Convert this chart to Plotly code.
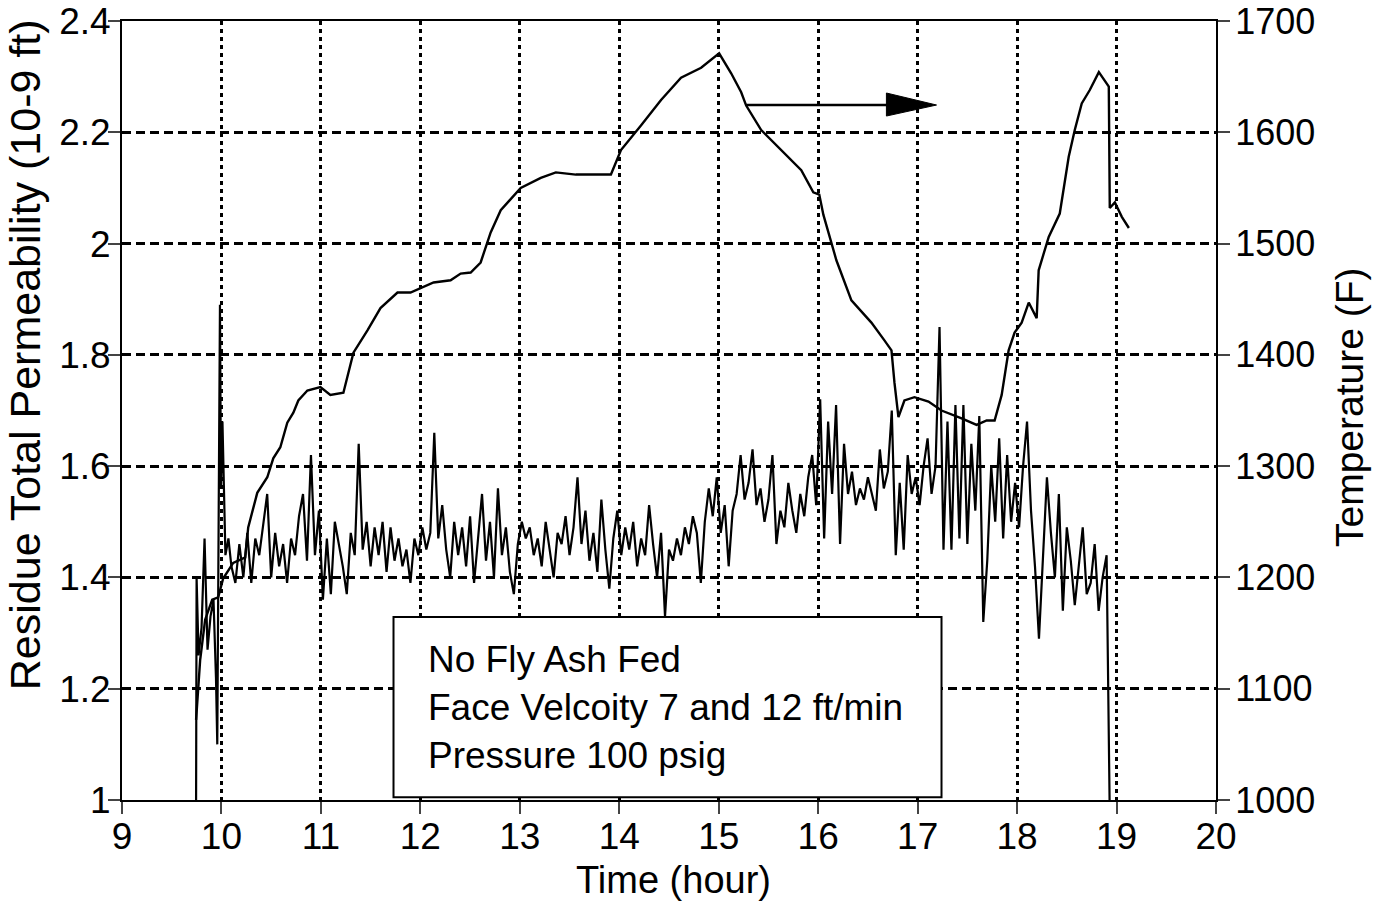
import plotly.graph_objects as go

# Temperature (right axis, F)
temp_t = [9.745, 9.786, 9.836, 9.907, 9.967, 10.017, 10.118, 10.239, 10.269, 10.360, 10.461, 10.521,
          10.592, 10.662, 10.723, 10.773, 10.864, 10.995, 11.095, 11.226, 11.327, 11.468, 11.599, 11.770,
          11.901, 12.002, 12.133, 12.304, 12.405, 12.506, 12.606, 12.707, 12.808, 13.009, 13.211, 13.362,
          13.563, 13.916, 14.017, 14.218, 14.420, 14.621, 14.823, 15.004, 15.125, 15.226, 15.276, 15.427,
          15.629, 15.830, 15.951, 16.011, 16.052, 16.183, 16.334, 16.535, 16.666, 16.737, 16.767, 16.807,
          16.867, 16.968, 17.109, 17.240, 17.442, 17.593, 17.694, 17.774, 17.845, 17.915, 17.975, 18.046,
          18.117, 18.197, 18.217, 18.318, 18.429, 18.519, 18.580, 18.650, 18.731, 18.822, 18.922, 18.932,
          18.983, 19.053, 19.124]
temp_v = [1072, 1126, 1162, 1180, 1182, 1199, 1213, 1218, 1245, 1276, 1290, 1307,
          1317, 1339, 1348, 1359, 1368, 1371, 1364, 1366, 1402, 1422, 1442, 1456,
          1456, 1460, 1465, 1467, 1473, 1474, 1483, 1510, 1530, 1550, 1559, 1564,
          1562, 1562, 1584, 1606, 1629, 1649, 1658, 1671, 1653, 1636, 1624, 1602,
          1584, 1566, 1546, 1544, 1526, 1485, 1449, 1429, 1413, 1404, 1375, 1344,
          1359, 1362, 1358, 1350, 1343, 1337, 1341, 1341, 1364, 1404, 1420, 1429,
          1447, 1433, 1476, 1506, 1527, 1578, 1602, 1626, 1638, 1654, 1641, 1532,
          1537, 1524, 1514]

# Residue total permeability (left axis, 10-9 ft)
perm_start_t = [9.745, 9.75, 9.77, 9.80, 9.83, 9.86, 9.89, 9.92, 9.945, 9.958, 9.985, 9.995, 10.01, 10.04, 10.07]
perm_start_v = [1.00, 1.40, 1.26, 1.31, 1.47, 1.27, 1.33, 1.36, 1.22, 1.10, 1.89, 1.56, 1.68, 1.44, 1.47]

perm_step = 0.04
perm_v = [
    # 10.10 - 11.06
    1.42, 1.39, 1.46, 1.40, 1.48, 1.39, 1.47, 1.44, 1.50, 1.55, 1.40, 1.48, 1.42, 1.46, 1.39, 1.47,
    1.44, 1.51, 1.55, 1.43, 1.62, 1.44, 1.52, 1.36, 1.47,
    # 11.10 - 12.06
    1.37, 1.50, 1.46, 1.42, 1.37, 1.48, 1.44, 1.64, 1.45, 1.50, 1.42, 1.49, 1.44, 1.50, 1.41, 1.49,
    1.43, 1.47, 1.42, 1.45, 1.39, 1.47, 1.44, 1.49, 1.45,
    # 12.10 - 13.06
    1.48, 1.66, 1.47, 1.53, 1.45, 1.40, 1.50, 1.44, 1.49, 1.42, 1.51, 1.39, 1.47, 1.55, 1.43, 1.50,
    1.40, 1.56, 1.44, 1.49, 1.41, 1.37, 1.46, 1.50, 1.47,
    # 13.10 - 14.06
    1.49, 1.44, 1.47, 1.42, 1.50, 1.45, 1.40, 1.48, 1.46, 1.51, 1.44, 1.49, 1.58, 1.46, 1.52, 1.43,
    1.48, 1.41, 1.54, 1.45, 1.38, 1.47, 1.52, 1.44, 1.49,
    # 14.10 - 15.06
    1.45, 1.50, 1.42, 1.47, 1.44, 1.53, 1.46, 1.40, 1.48, 1.33, 1.45, 1.43, 1.47, 1.44, 1.49, 1.46,
    1.51, 1.48, 1.39, 1.50, 1.56, 1.51, 1.58, 1.48, 1.53,
    # 15.10 - 16.06
    1.42, 1.52, 1.55, 1.62, 1.54, 1.57, 1.63, 1.53, 1.56, 1.50, 1.54, 1.62, 1.46, 1.52, 1.49, 1.57,
    1.52, 1.48, 1.55, 1.51, 1.58, 1.62, 1.53, 1.72, 1.47,
    # 16.10 - 17.06
    1.68, 1.55, 1.71, 1.46, 1.64, 1.55, 1.59, 1.53, 1.56, 1.54, 1.58, 1.55, 1.52, 1.63, 1.56, 1.59,
    1.70, 1.44, 1.57, 1.45, 1.62, 1.55, 1.58, 1.53, 1.60,
    # 17.10 - 18.06
    1.65, 1.55, 1.60, 1.85, 1.45, 1.68, 1.45, 1.71, 1.47, 1.71, 1.46, 1.64, 1.52, 1.69, 1.32, 1.43,
    1.60, 1.50, 1.65, 1.47, 1.62, 1.50, 1.57, 1.49, 1.60,
    # 18.10 - 18.90
    1.68, 1.52, 1.42, 1.29, 1.45, 1.58, 1.48, 1.40, 1.55, 1.34, 1.49, 1.43, 1.35, 1.42, 1.49, 1.37,
    1.39, 1.46, 1.34, 1.40, 1.44,
]
perm_end_t = [18.93]
perm_end_v = [1.00]

perm_t = perm_start_t + [round(10.10 + perm_step * i, 3) for i in range(len(perm_v))] + perm_end_t
perm_all = perm_start_v + perm_v + perm_end_v

x_ticks = list(range(9, 21))
note_lines = ["No Fly Ash Fed", "Face Velcoity 7 and 12 ft/min", "Pressure 100 psig"]

FONT = "Liberation Sans, Arial, Helvetica, sans-serif"

fig = go.Figure()
fig.add_trace(go.Scatter(x=temp_t, y=temp_v, yaxis="y2", mode="lines",
                         line=dict(color="black", width=2.4), showlegend=False))
fig.add_trace(go.Scatter(x=perm_t, y=perm_all, mode="lines",
                         line=dict(color="black", width=2.2), showlegend=False))

# Note box
fig.add_shape(type="rect", xref="x", yref="y", x0=11.73, x1=17.24, y0=1.005, y1=1.329,
              fillcolor="white", line=dict(color="black", width=2), layer="above")
fig.add_annotation(x=12.06, y=1.167, xref="x", yref="y", text="<br>".join(note_lines),
                   showarrow=False, xanchor="left", yanchor="middle", align="left",
                   font=dict(family=FONT, size=37, color="black"))

# Arrow pointing to the temperature axis
fig.add_shape(type="line", xref="x", yref="y2", x0=15.276, x1=16.75, y0=1624.5, y1=1624.5,
              line=dict(color="black", width=2.5))
fig.add_shape(type="path", xref="x", yref="y2",
              path="M 16.686,1635.3 L 17.19,1624.5 L 16.686,1614.6 Z",
              fillcolor="black", line=dict(color="black", width=1))

# Axis titles
fig.add_annotation(x=0, y=0.571, xref="paper", yref="paper", xshift=-97,
                   text="Residue Total Permeability (10-9 ft)", textangle=-90,
                   showarrow=False, xanchor="center", yanchor="middle",
                   font=dict(family=FONT, size=43, color="black"))
fig.add_annotation(x=1, y=0.5045, xref="paper", yref="paper", xshift=134,
                   text="Temperature (F)", textangle=-90,
                   showarrow=False, xanchor="center", yanchor="middle",
                   font=dict(family=FONT, size=39, color="black"))
fig.add_annotation(x=0.504, y=0, xref="paper", yref="paper", yshift=-80,
                   text="Time (hour)", showarrow=False, xanchor="center", yanchor="middle",
                   font=dict(family=FONT, size=38, color="black"))

fig.update_layout(
    width=1373, height=904,
    margin=dict(l=122, r=157, t=21, b=104, autoexpand=False),
    paper_bgcolor="white", plot_bgcolor="white",
    font=dict(family=FONT, size=37, color="black"),
    xaxis=dict(range=[9, 20], tickvals=x_ticks, ticks="outside", ticklen=12, tickwidth=2,
               showline=True, linecolor="black", linewidth=2, mirror=True,
               showgrid=True, gridcolor="black", gridwidth=2.5, griddash="4px,4px",
               zeroline=False, automargin=False, ticklabelstandoff=-9,
               tickfont=dict(size=37)),
    yaxis=dict(range=[1, 2.4], dtick=0.2, ticks="outside", ticklen=12, tickwidth=2,
               showline=True, linecolor="black", linewidth=2,
               showgrid=True, gridcolor="black", gridwidth=2.5, griddash="9px,5px",
               zeroline=False, automargin=False, ticklabelstandoff=-10,
               tickfont=dict(size=37)),
    yaxis2=dict(range=[1000, 1700], dtick=100, overlaying="y", side="right",
                ticks="outside", ticklen=12, tickwidth=2, automargin=False,
                showline=True, linecolor="black", linewidth=2, showgrid=False, zeroline=False,
                ticklabelstandoff=-2, tickfont=dict(size=36)),
)

fig.write_html("out.html")
